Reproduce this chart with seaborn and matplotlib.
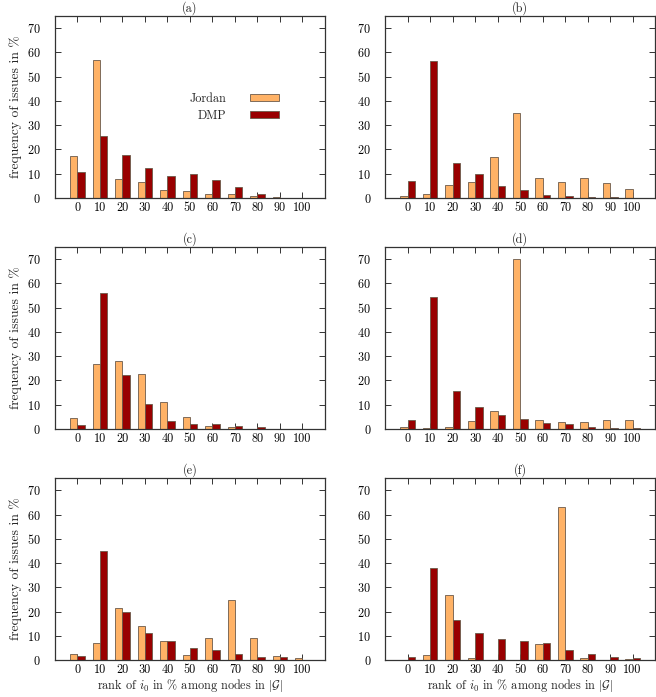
import numpy as np
import pandas as pd
import matplotlib
matplotlib.use("Agg")
import matplotlib.pyplot as plt
from matplotlib.patches import Patch
import seaborn as sns

# rank bins (in %) and frequencies
ranks = ["0", "10", "20", "30", "40", "50", "60", "70", "80", "90", "100"]
panels = ["(a)", "(b)", "(c)", "(d)", "(e)", "(f)"]

jordan_a = [17.2, 57.0, 7.8, 6.6, 3.3, 2.7, 1.5, 1.5, 0.7, 0.5, 0.0]
dmp_a = [10.6, 25.4, 17.8, 12.4, 9.1, 10.0, 7.3, 4.5, 1.8, 0.1, 0.0]

jordan_b = [0.8, 1.5, 5.4, 6.6, 16.9, 35.0, 8.2, 6.6, 8.2, 6.2, 3.7]
dmp_b = [7.0, 56.3, 14.4, 9.7, 4.9, 3.3, 1.4, 1.0, 0.4, 0.3, 0.1]

jordan_c = [4.4, 26.7, 28.1, 22.8, 11.0, 4.8, 1.2, 0.8, 0.1, 0.0, 0.0]
dmp_c = [1.8, 56.0, 22.1, 10.3, 3.3, 2.1, 1.9, 1.2, 0.7, 0.0, 0.0]

jordan_d = [0.8, 0.4, 0.8, 3.2, 7.4, 70.1, 3.6, 2.8, 2.8, 3.9, 3.6]
dmp_d = [3.9, 54.5, 15.5, 9.1, 5.9, 4.0, 2.3, 2.2, 0.8, 0.4, 0.4]

jordan_e = [2.3, 7.0, 21.3, 14.1, 7.7, 1.9, 9.2, 24.6, 9.3, 1.5, 1.0]
dmp_e = [1.5, 44.9, 20.0, 11.1, 7.7, 5.1, 4.0, 2.3, 1.1, 1.2, 0.1]

jordan_f = [0.0, 1.9, 26.8, 0.8, 0.0, 0.0, 6.5, 62.9, 0.7, 0.0, 0.3]
dmp_f = [1.4, 38.0, 16.5, 11.3, 8.5, 8.0, 6.9, 4.3, 2.7, 1.4, 1.0]

jordan_all = [jordan_a, jordan_b, jordan_c, jordan_d, jordan_e, jordan_f]
dmp_all = [dmp_a, dmp_b, dmp_c, dmp_d, dmp_e, dmp_f]

methods = ["Jordan", "DMP"]
colors = {"Jordan": "#ffb266", "DMP": "#990000"}

sns.set_style("ticks")
plt.rcParams["font.family"] = "serif"
plt.rcParams["font.serif"] = ["cmr10"]
plt.rcParams["mathtext.fontset"] = "cm"
plt.rcParams["axes.formatter.use_mathtext"] = True
plt.rcParams["axes.unicode_minus"] = False

fs = 8.8
fig = plt.figure(figsize=(6.56, 6.97), dpi=100)

lefts = [0.0838, 0.587]
bottoms = [0.716, 0.3845, 0.053]
w, h = 0.4116, 0.261

for i, name in enumerate(panels):
    row, col = divmod(i, 2)
    ax = fig.add_axes([lefts[col], bottoms[row], w, h])

    df = pd.DataFrame({
        "rank": ranks * 2,
        "freq": jordan_all[i] + dmp_all[i],
        "method": ["Jordan"] * len(ranks) + ["DMP"] * len(ranks),
    })
    sns.barplot(data=df, x="rank", y="freq", hue="method", order=ranks,
                hue_order=methods, palette=colors, width=0.66, ax=ax,
                edgecolor="#6b5a4a", linewidth=0.6, saturation=1,
                legend=False, errorbar=None)

    ax.set_xlim(-1, 11)
    ax.set_ylim(0, 75)
    ax.set_yticks(np.arange(0, 71, 10))
    ax.tick_params(direction="in", length=4, width=0.7, top=True, right=True,
                   labelsize=fs, colors="#333333", labelcolor="black")
    ax.tick_params(axis="y", pad=10)
    ax.tick_params(axis="x", pad=3)
    for s in ax.spines.values():
        s.set_linewidth(0.9)
        s.set_color("#333333")
    ax.set_title(name, fontsize=fs, pad=3)

    if col == 0:
        ax.set_ylabel("frequency of issues in %", fontsize=9.8, labelpad=4)
    else:
        ax.set_ylabel("")
    if row == 2:
        ax.set_xlabel(r"rank of $i_0$ in % among nodes in $|\mathcal{G}|$",
                      fontsize=fs, labelpad=0.5)
    else:
        ax.set_xlabel("")

    if i == 0:
        handles = [Patch(facecolor=colors[m], edgecolor="#6b5a4a", linewidth=0.6)
                   for m in methods]
        ax.legend(handles, methods, loc="center right",
                  bbox_to_anchor=(0.87, 0.50), frameon=False, fontsize=fs,
                  markerfirst=False, handlelength=2.4, handleheight=0.55,
                  handletextpad=1.9, labelspacing=0.4)

fig.savefig("out.png", dpi=100)
